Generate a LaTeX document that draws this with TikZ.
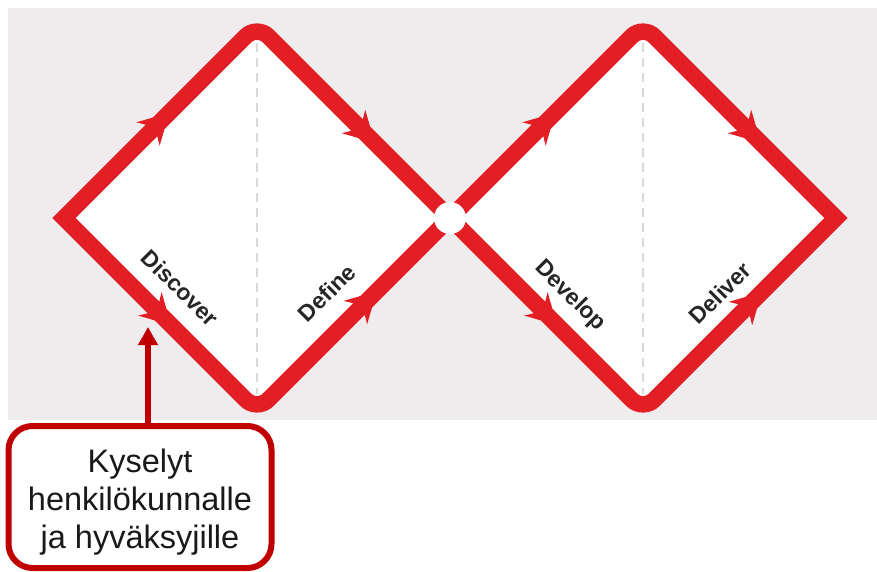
\documentclass[tikz,border=0pt]{standalone}
\usepackage{fontspec}
\setmainfont{Liberation Sans}
\usetikzlibrary{arrows.meta,calc}
\definecolor{ddred}{HTML}{E31E25}
\definecolor{boxred}{HTML}{C00000}
\definecolor{bggray}{HTML}{EEECED}
\definecolor{dashgray}{HTML}{D9D9D9}
\definecolor{labelgray}{HTML}{262626}
\tikzset{
  loopline/.style={draw=ddred, fill=white, line width=16.5pt, line join=miter},
  flowhead/.style={draw=ddred, fill=ddred, line width=1pt,
    -{Stealth[length=30pt, width=33pt, inset=10pt]}},
  divline/.style={draw=dashgray, line width=1.2pt, dash pattern=on 9pt off 6pt},
  lbl/.style={font=\bfseries\fontsize{23}{27}\selectfont, text=labelgray, inner sep=0pt},
  callbox/.style={draw=boxred, fill=white, line width=6pt, rounded corners=24pt,
    minimum width=263pt, minimum height=142pt, inner sep=0pt},
  callarrow/.style={draw=boxred, line width=6pt, -{Triangle[length=18pt, width=19pt]}}
}
\begin{document}
\begin{tikzpicture}[x=1pt, y=-1pt]
\useasboundingbox (0,0) rectangle (877,572);
% background
\fill[bggray] (8,8) rectangle (877,420);
% key points
\coordinate (L) at (64,218);
\coordinate (T1) at (257,25);
\coordinate (B1) at (257,411);
\coordinate (C) at (450,218);
\coordinate (T2) at (643,25);
\coordinate (B2) at (643,411);
\coordinate (R) at (836,218);
% figure-eight loop
\path[loopline] (L) -- (245.7,36.3) .. controls (251.9,30.1) and (262.1,30.1) .. (268.3,36.3)
  -- (631.7,399.7) .. controls (637.9,405.9) and (648.1,405.9) .. (654.3,399.7)
  -- (R) -- (654.3,36.3) .. controls (648.1,30.1) and (637.9,30.1) .. (631.7,36.3)
  -- (268.3,399.7) .. controls (262.1,405.9) and (251.9,405.9) .. (245.7,399.7) -- cycle;
% dashed dividers
\draw[divline] (257,43) -- (257,394);
\draw[divline] (643,43) -- (643,394);
% flow arrowheads
\draw[flowhead] ($(L)!0.535!(T1)$) -- ($(L)!0.545!(T1)$);
\draw[flowhead] ($(T1)!0.60!(C)$) -- ($(T1)!0.61!(C)$);
\draw[flowhead] ($(L)!0.545!(B1)$) -- ($(L)!0.555!(B1)$);
\draw[flowhead] ($(B1)!0.61!(C)$) -- ($(B1)!0.62!(C)$);
\draw[flowhead] ($(C)!0.535!(T2)$) -- ($(C)!0.545!(T2)$);
\draw[flowhead] ($(T2)!0.60!(R)$) -- ($(T2)!0.61!(R)$);
\draw[flowhead] ($(C)!0.545!(B2)$) -- ($(C)!0.555!(B2)$);
\draw[flowhead] ($(B2)!0.605!(R)$) -- ($(B2)!0.615!(R)$);
% centre circle
\fill[white] (C) circle[radius=16];
% labels
\node[lbl, rotate=-45] (discover) at (180,288) {Discover};
\node[lbl, rotate=45] (define) at (327,293) {Define};
\node[lbl, rotate=-45] (develop) at (570,296) {Develop};
\node[lbl, rotate=45] (deliver) at (720,293) {Deliver};
% callout
\node[callbox] (box) at (140,497) {};
\coordinate (tipc) at (148,327);
\draw[callarrow] (box.north -| tipc) -- (tipc);
\node[align=center, font=\fontsize{32.5}{38}\selectfont, text=black!90, inner sep=0pt] (txt) at (140,502)
  {Kyselyt\\henkilökunnalle\\ja hyväksyjille};
\end{tikzpicture}
\end{document}
